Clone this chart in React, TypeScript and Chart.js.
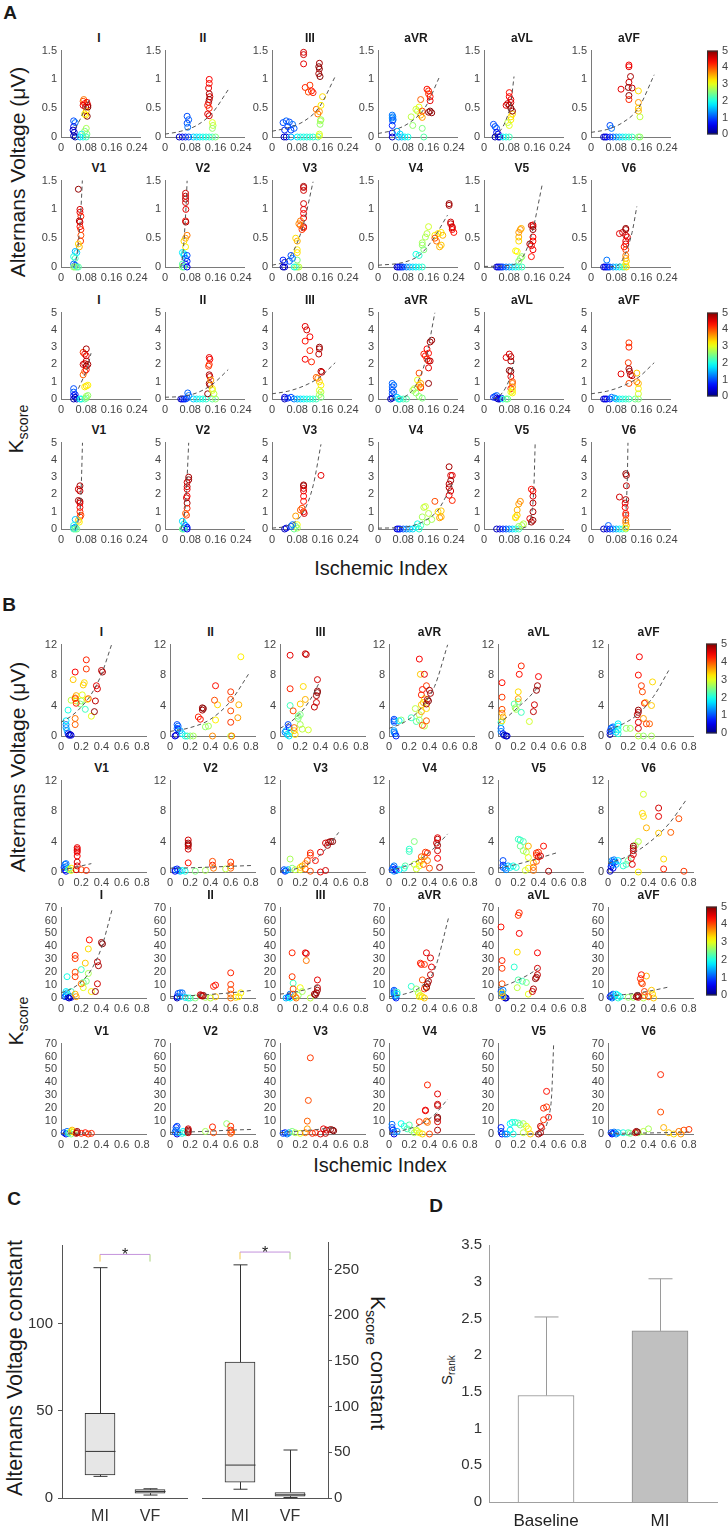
import { useEffect, useRef } from 'react';
import { Chart, registerables } from 'chart.js';

Chart.register(...registerables);

type P = [number, number, number]; // x, y, colour value 0-5
type F = [number, number][];

const FONT = '"Liberation Sans", Arial, Helvetica, sans-serif';
const TICK = '#444';
const AXIS = '#7a7a7a';

const leads = ['I', 'II', 'III', 'aVR', 'aVL', 'aVF', 'V1', 'V2', 'V3', 'V4', 'V5', 'V6'];

const aXTicks = [0, 0.08, 0.16, 0.24];
const aVoltTicks = [0, 0.5, 1, 1.5];
const aKTicks = [0, 1, 2, 3, 4, 5];
const bXTicks = [0, 0.2, 0.4, 0.6, 0.8];
const bVoltTicks = [0, 4, 8, 12];
const bKTicks = [0, 10, 20, 30, 40, 50, 60, 70];
const cbTicks = [0, 1, 2, 3, 4, 5];

// Panel A, alternans voltage
const aVoltPts: P[][] = [
  [[0.04,0.28,1],[0.045,0.25,1.2],[0.04,0.18,0.5],[0.038,0.12,0.3],[0.042,0.08,0.4],[0.04,0.02,0.2],[0.045,0,0.2],[0.06,0,1.6],[0.065,0.05,1.8],[0.07,0,2],[0.075,0.1,2.5],[0.08,0.15,2.7],[0.082,0.05,2.5],[0.08,0,2.2],[0.07,0.62,4],[0.072,0.65,3.8],[0.075,0.58,4.3],[0.07,0.55,4.5],[0.078,0.52,4.8],[0.085,0.55,4.6],[0.08,0.45,3.5],[0.078,0.38,3.3],[0.083,0.36,5],[0.075,0.4,3.2],[0.085,0.52,5],[0.082,0.6,4.4]],
  [[0.07,0.36,1],[0.075,0.3,1.1],[0.07,0.24,1],[0.072,0.17,1.2],[0.045,0,0.3],[0.055,0,0.5],[0.065,0,0.8],[0.075,0,1],[0.09,0,1.6],[0.1,0,1.8],[0.11,0,1.8],[0.12,0,2],[0.13,0,2],[0.14,0,2.1],[0.15,0,2.2],[0.16,0,2.5],[0.14,1.0,4.4],[0.14,0.93,4.3],[0.138,0.85,4.5],[0.14,0.75,4.8],[0.142,0.7,4.6],[0.14,0.65,4.9],[0.138,0.6,4.7],[0.135,0.55,4.3],[0.14,0.5,4.2],[0.135,0.4,4.5],[0.14,0.37,4.6],[0.15,0.25,3],[0.152,0.2,2.8],[0.15,0.15,2.6]],
  [[0.035,0.25,1],[0.045,0.28,1.1],[0.055,0.26,1],[0.065,0.22,1.2],[0.04,0.12,0.8],[0.05,0.18,1],[0.06,0.12,0.9],[0.07,0.15,1.1],[0.038,0,0.3],[0.045,0,0.4],[0.06,0,1.5],[0.08,0,1.8],[0.09,0,2],[0.1,0,2],[0.11,0,2],[0.12,0,2.1],[0.13,0,2.1],[0.145,0,2.2],[0.1,1.47,4.6],[0.1,1.43,4.6],[0.1,1.27,4.5],[0.15,1.28,4.8],[0.148,1.22,5],[0.15,1.18,4.9],[0.148,1.1,4.8],[0.152,1.05,5],[0.105,0.86,4.2],[0.12,0.9,4.1],[0.125,0.8,4.3],[0.115,0.78,4],[0.13,0.77,4.2],[0.14,0.48,3.8],[0.15,0.44,3.6],[0.145,0.4,3.8],[0.16,0.7,3.3],[0.155,0.55,3.2],[0.155,0.3,2.7],[0.153,0.28,2.7],[0.152,0.22,2.6],[0.15,0.05,2.9],[0.15,0.02,3]],
  [[0.045,0.38,1.2],[0.047,0.35,1.2],[0.045,0.33,1.3],[0.048,0.3,1.2],[0.046,0.28,1.1],[0.045,0.2,0.8],[0.045,0.07,0.5],[0.045,0,0.3],[0.065,0,1.4],[0.075,0,1.6],[0.085,0,1.8],[0.095,0,2],[0.06,0.1,1.5],[0.07,0.05,1.7],[0.105,0.35,2.8],[0.11,0.2,2.6],[0.12,0.48,2.9],[0.13,0.52,3],[0.14,0.15,2.5],[0.145,0,2.3],[0.125,0.45,2.8],[0.135,0.38,3.5],[0.14,0.34,3.6],[0.135,0.65,3.9],[0.14,0.45,4],[0.155,0.83,4.3],[0.16,0.8,4.2],[0.16,0.75,4.1],[0.165,0.7,4.3],[0.165,0.63,4.5],[0.16,0.43,4.9],[0.17,0.42,4.9],[0.165,0.45,5]],
  [[0.03,0.22,1],[0.035,0.18,1],[0.04,0.15,1.1],[0.04,0.08,0.6],[0.045,0.05,0.5],[0.035,0,0.2],[0.05,0,0.3],[0.045,0,0.4],[0.06,0,1.8],[0.07,0,2],[0.08,0,2.2],[0.08,0.2,3],[0.085,0.3,3.2],[0.085,0.35,3.3],[0.09,0.4,3.3],[0.075,0.25,2.8],[0.07,0.55,4.5],[0.08,0.77,4.3],[0.08,0.7,4.4],[0.085,0.6,4.6],[0.075,0.58,4.7],[0.08,0.55,4.8],[0.085,0.5,5],[0.09,0.45,4.9],[0.085,0.65,4.5]],
  [[0.06,0.2,1],[0.065,0.15,1.2],[0.04,0,0.3],[0.045,0,0.4],[0.05,0,0.6],[0.06,0,0.8],[0.07,0,1],[0.08,0,1.4],[0.09,0,1.6],[0.1,0,1.8],[0.11,0,2],[0.12,0,2.1],[0.13,0,2.2],[0.15,0,2.5],[0.155,0,2.6],[0.095,0.83,4.5],[0.12,1.25,4.4],[0.12,1.22,4.5],[0.125,1.05,4.8],[0.12,0.95,4.6],[0.118,0.86,5],[0.12,0.72,4.9],[0.12,0.65,4.2],[0.13,0.85,4.7],[0.15,0.8,3.3],[0.15,0.6,3.6],[0.15,0.5,3.4],[0.15,0.45,3.5],[0.155,0.35,2.8]],
  [[0.055,1.35,4.9],[0.06,1.0,4.6],[0.06,0.95,4.5],[0.063,0.88,4.2],[0.058,0.8,4.8],[0.06,0.78,4.6],[0.06,0.7,4.3],[0.063,0.65,4.2],[0.063,0.55,4],[0.062,0.45,4.1],[0.055,0.4,3.3],[0.058,0.35,3.5],[0.045,0.27,1.5],[0.05,0.25,1.7],[0.04,0.18,2],[0.045,0.15,2.2],[0.04,0.05,1.2],[0.045,0.03,1],[0.045,0,2.5],[0.05,0,2.2],[0.04,0,2.6],[0.055,0,2.3]],
  [[0.065,1.28,4.6],[0.065,1.23,4.6],[0.065,1.18,4.7],[0.065,1.12,4.6],[0.066,1.0,4.5],[0.065,0.8,4.3],[0.066,0.78,4.8],[0.07,0.55,3.8],[0.065,0.5,3.6],[0.06,0.45,3.3],[0.065,0.35,3.2],[0.055,0.25,1.8],[0.06,0.23,2],[0.06,0.2,1.7],[0.065,0.15,1],[0.07,0.1,0.8],[0.065,0.05,0.6],[0.055,0.05,2.3],[0.055,0,2.6],[0.06,0,2.2],[0.07,0,0.5],[0.07,0.2,1]],
  [[0.1,1.4,4.8],[0.1,1.38,4.7],[0.1,1.33,4.6],[0.1,1.1,4.6],[0.1,1.0,4.5],[0.1,0.93,4.4],[0.1,0.85,4.5],[0.1,0.7,4.9],[0.1,0.68,4.3],[0.095,0.65,4.1],[0.09,0.8,3.8],[0.085,0.75,3.7],[0.09,0.72,3.9],[0.075,0.5,3.3],[0.08,0.45,3.5],[0.08,0.3,3.2],[0.08,0.25,3.3],[0.08,0.12,2.5],[0.08,0,2.7],[0.085,0,2.8],[0.075,0,2.4],[0.07,0,2],[0.06,0.2,1],[0.065,0.15,1.2],[0.035,0.12,0.8],[0.04,0.08,0.6],[0.035,0,0.2],[0.04,0,0.4],[0.055,0.1,1.1]],
  [[0.06,0,0.3],[0.065,0,0.5],[0.07,0,0.7],[0.075,0,0.8],[0.08,0,1],[0.09,0,1.2],[0.1,0,1.5],[0.11,0,1.7],[0.12,0,1.8],[0.13,0,2],[0.14,0,2.1],[0.12,0.22,2],[0.13,0.2,2.1],[0.14,0.42,2.7],[0.14,0.38,2.6],[0.145,0.3,2.5],[0.155,0.58,2.8],[0.16,0.7,2.9],[0.15,0.52,2.7],[0.18,0.55,3.2],[0.19,0.58,3.3],[0.2,0.6,3.2],[0.2,0.38,3.4],[0.195,0.35,3.5],[0.205,0.55,3.5],[0.18,0.5,4],[0.185,0.45,3.8],[0.225,1.1,4.9],[0.225,1.07,4.8],[0.23,0.78,4.6],[0.23,0.75,4.7],[0.235,0.7,4.5],[0.235,0.65,4.4],[0.24,0.6,4.3],[0.235,0.68,4.6]],
  [[0.04,0,0.3],[0.045,0,0.5],[0.05,0,0.7],[0.055,0,0.8],[0.06,0,1],[0.07,0,1.2],[0.08,0,1.4],[0.09,0,1.6],[0.1,0,1.9],[0.11,0,2.1],[0.12,0,2.2],[0.1,0.28,3.2],[0.105,0.27,3.1],[0.11,0.45,3.3],[0.11,0.52,3.5],[0.11,0.6,3.6],[0.115,0.65,3.7],[0.118,0.67,3.5],[0.115,0.15,2.7],[0.12,0.18,2.6],[0.11,0.1,2.5],[0.15,0.72,4.8],[0.155,0.73,4.5],[0.155,0.7,4.6],[0.155,0.65,4.9],[0.155,0.52,4.4],[0.155,0.45,4.3],[0.145,0.4,4.8],[0.15,0.37,4.5],[0.155,0.3,4.4],[0.15,0.18,4.3]],
  [[0.04,0,0.3],[0.045,0,0.5],[0.05,0,0.6],[0.055,0,0.8],[0.06,0,1],[0.07,0,1.3],[0.08,0,1.6],[0.09,0,1.8],[0.1,0,2.1],[0.105,0,2.5],[0.05,0.12,1.2],[0.09,0.58,4.5],[0.1,0.6,4.6],[0.11,0.67,4.9],[0.11,0.65,4.8],[0.11,0.55,4.7],[0.11,0.45,4.4],[0.11,0.4,4.6],[0.105,0.35,4.3],[0.11,0.3,4.1],[0.115,0.52,4.5],[0.11,0.2,3.8],[0.11,0.15,3.6],[0.112,0.1,3.4],[0.11,0.05,3.2],[0.112,0,3.3]],
];
const aVoltFit: F[] = [
  [[0.045,0.15],[0.06,0.3],[0.075,0.48],[0.093,0.68]],
  [[0,0.05],[0.05,0.1],[0.1,0.2],[0.15,0.42],[0.2,0.82]],
  [[0,0.1],[0.05,0.16],[0.1,0.27],[0.15,0.52],[0.2,1.05]],
  [[0,0.06],[0.05,0.12],[0.1,0.25],[0.15,0.52],[0.195,1.05]],
  [[0.03,0.02],[0.05,0.1],[0.07,0.3],[0.085,0.6],[0.095,1.05]],
  [[0,0.08],[0.05,0.13],[0.1,0.25],[0.15,0.5],[0.2,1.08]],
  [[0.04,0],[0.05,0.2],[0.058,0.6],[0.063,1.0],[0.068,1.55]],
  [[0.05,0],[0.058,0.3],[0.063,0.7],[0.067,1.1],[0.07,1.5]],
  [[0,0.03],[0.04,0.1],[0.07,0.3],[0.1,0.75],[0.13,1.48]],
  [[0,0.03],[0.08,0.08],[0.13,0.2],[0.17,0.45],[0.22,0.9]],
  [[0,0.01],[0.08,0.03],[0.12,0.15],[0.15,0.55],[0.185,1.45]],
  [[0.06,0],[0.09,0.05],[0.11,0.25],[0.13,0.6],[0.145,1.05]],
];

// Panel A, Kscore
const aKPts: P[][] = [
  [[0.04,0.6,1],[0.04,0.4,1.1],[0.045,0.25,0.8],[0.04,0.2,0.6],[0.045,0.1,0.4],[0.04,0,0.2],[0.05,0,0.3],[0.06,0,1.8],[0.065,0,2],[0.075,0,2.3],[0.08,0.05,2.5],[0.08,0.15,2.7],[0.085,0.2,2.6],[0.075,0.7,3.2],[0.08,0.75,3.3],[0.085,0.8,3.2],[0.07,2.7,4.1],[0.075,2.6,4.3],[0.08,2.9,4.8],[0.08,2.5,4.6],[0.08,2.2,4.7],[0.075,2.05,4.5],[0.07,2.0,4.6],[0.08,1.9,5],[0.085,2.0,4.8],[0.075,1.6,4],[0.07,1.4,3.9],[0.08,1.7,4.4]],
  [[0.05,0,0.3],[0.055,0,0.5],[0.06,0,0.7],[0.065,0,0.9],[0.07,0.05,1],[0.075,0.2,1.2],[0.072,0.35,1.1],[0.09,0,1.6],[0.1,0,1.8],[0.11,0,2],[0.12,0,2],[0.13,0,2.1],[0.15,0,2.3],[0.16,0,2.6],[0.14,2.4,4.5],[0.142,2.3,4.4],[0.14,2.0,4.2],[0.138,1.9,4.1],[0.14,1.4,4.8],[0.142,1.3,4.6],[0.14,0.9,4.9],[0.142,0.8,4.7],[0.135,0.3,4.9],[0.15,0.6,3.2],[0.15,0.5,3],[0.155,0.3,2.8],[0.145,1.1,3.6]],
  [[0.04,0,0.3],[0.04,0.1,0.5],[0.05,0.05,0.8],[0.06,0.1,1],[0.07,0,1.2],[0.08,0,1.5],[0.09,0,1.7],[0.1,0,1.8],[0.11,0,2],[0.12,0,2],[0.13,0,2.1],[0.14,0,2.2],[0.105,4.2,4.5],[0.11,4.0,4.6],[0.12,3.6,4.4],[0.105,3.35,4.3],[0.12,2.8,4.2],[0.105,2.3,4.4],[0.125,2.15,4.2],[0.15,3.0,4.9],[0.15,2.9,4.8],[0.148,2.6,4.7],[0.155,1.6,4.8],[0.158,1.55,4.6],[0.14,1.25,3.9],[0.145,1.2,3.8],[0.15,1.0,3.4],[0.155,0.8,3.2],[0.15,0.5,3],[0.155,0.4,2.8],[0.15,0.25,2.7],[0.155,0.1,2.5]],
  [[0.045,0.9,1.1],[0.05,0.8,1.2],[0.045,0.7,1.1],[0.045,0.5,1],[0.05,0.4,1.2],[0.045,0.3,1],[0.04,0,0.2],[0.045,0.05,0.4],[0.06,0.1,1.6],[0.065,0,1.8],[0.07,0,2],[0.08,0,2.2],[0.09,0,2.3],[0.11,0.5,2.7],[0.115,0.6,2.8],[0.12,0.35,2.6],[0.125,1.1,3],[0.13,0.15,2.6],[0.14,0.05,2.5],[0.13,0.8,3.5],[0.135,0.7,3.8],[0.135,0.65,4.1],[0.13,1.5,4],[0.135,0.9,3.6],[0.145,2.6,4.2],[0.15,2.5,4.3],[0.155,2.9,4.4],[0.16,2.65,4.3],[0.16,2.2,4.6],[0.16,1.8,4.5],[0.155,2.3,4.2],[0.165,3.3,4.8],[0.17,3.4,4.9],[0.165,2.2,4.7],[0.16,0.9,4.9]],
  [[0.03,0.1,0.8],[0.035,0.15,1],[0.04,0.2,1.1],[0.04,0.05,0.5],[0.045,0,0.3],[0.05,0,0.4],[0.055,0.05,0.6],[0.06,0,2],[0.07,0,2.3],[0.075,0,2.5],[0.07,2.4,4.5],[0.08,2.6,4.6],[0.085,2.45,4.7],[0.085,2.2,4.8],[0.08,1.65,4.9],[0.085,1.6,5],[0.085,1.3,4.5],[0.09,1.0,4],[0.09,0.9,3.8],[0.09,0.7,3.6],[0.085,0.6,4.2],[0.09,0.5,3.3],[0.09,0.35,3.2],[0.085,0.4,3]],
  [[0.04,0,0.3],[0.045,0,0.5],[0.05,0,0.6],[0.06,0,0.8],[0.065,0.1,1.2],[0.075,0.05,1.4],[0.08,0,1.6],[0.09,0,1.8],[0.1,0,2],[0.11,0,2.1],[0.12,0,2.2],[0.14,0,2.4],[0.15,0,2.5],[0.095,1.45,4.5],[0.12,3.25,4.1],[0.12,3.0,4.2],[0.118,2.1,4.1],[0.12,1.75,4.8],[0.122,1.6,4.9],[0.125,1.4,4.6],[0.13,1.35,4.7],[0.12,0.9,4],[0.145,1.5,3.4],[0.145,1.0,3.8],[0.15,0.9,3.5],[0.15,0.6,3.2],[0.15,0.3,2.9]],
  [[0.06,2.5,4.8],[0.055,2.3,4.6],[0.06,2.2,4.7],[0.055,1.65,4.8],[0.06,1.6,4.9],[0.06,1.5,4.5],[0.06,1.25,4.4],[0.06,1.0,4.2],[0.063,0.8,4],[0.06,0.7,4.1],[0.055,0.5,3.4],[0.058,0.4,3.2],[0.045,0.55,1.6],[0.04,0.2,2],[0.045,0.1,1.5],[0.04,0.05,1.2],[0.045,0,2.5],[0.05,0,2.4],[0.04,0,2.2]],
  [[0.075,3.0,4.8],[0.075,2.85,4.9],[0.07,2.7,4.6],[0.07,2.45,4.7],[0.07,2.3,4.5],[0.07,1.9,4.4],[0.068,1.8,4.6],[0.07,1.5,4.8],[0.07,1.2,4.2],[0.068,0.8,4.1],[0.065,0.9,3.9],[0.055,0.45,1.7],[0.06,0.3,1.9],[0.065,0.2,1.2],[0.07,0.1,0.8],[0.06,0.05,1],[0.055,0,2.4],[0.06,0,2.2],[0.07,0,0.5]],
  [[0.1,2.55,4.8],[0.1,2.5,4.9],[0.1,2.35,4.6],[0.1,2.2,4.5],[0.1,1.9,4.4],[0.1,1.6,4.3],[0.1,1.0,4.4],[0.102,0.9,4.6],[0.155,3.1,4.5],[0.095,1.2,4],[0.09,1.1,3.9],[0.075,0.75,3.6],[0.08,0.25,3.1],[0.075,0.15,2.5],[0.08,0.05,2.7],[0.07,0,2.4],[0.04,0,0.3],[0.045,0.05,0.5],[0.06,0.15,1],[0.065,0.25,1.2]],
  [[0.06,0,0.4],[0.065,0,0.6],[0.07,0,0.8],[0.08,0,1],[0.09,0,1.3],[0.1,0,1.5],[0.11,0,1.7],[0.12,0.1,1.9],[0.125,0.3,2],[0.13,0,2.1],[0.135,0.2,2.2],[0.14,0.7,2.7],[0.145,1.25,2.8],[0.15,1.3,2.9],[0.155,0.4,2.6],[0.16,0.9,2.8],[0.17,0.55,2.7],[0.18,1.6,4],[0.19,1.0,3.3],[0.2,1.05,3.4],[0.2,0.7,3.5],[0.195,0.65,3.6],[0.225,3.6,4.8],[0.23,3.1,4.6],[0.235,3.1,4.5],[0.23,2.8,4.9],[0.225,2.6,4.7],[0.225,2.4,4.8],[0.23,2.2,4.6],[0.225,1.95,4.5],[0.235,1.65,4.2]],
  [[0.04,0,0.3],[0.05,0,0.5],[0.06,0,0.8],[0.07,0,1],[0.08,0,1.3],[0.09,0,1.6],[0.1,0,1.9],[0.11,0,2.2],[0.11,0.15,2.6],[0.12,0.2,2.7],[0.125,0.3,2.8],[0.1,0.65,3.3],[0.105,0.8,3.4],[0.105,1.1,3.5],[0.11,1.45,3.6],[0.115,1.6,3.7],[0.1,0.7,3.2],[0.145,0.6,4.5],[0.15,2.3,4.3],[0.155,2.2,4.4],[0.155,1.9,4.6],[0.155,1.5,4.7],[0.155,1.0,4.8],[0.155,0.5,4.9],[0.15,0.4,4.8]],
  [[0.04,0,0.3],[0.05,0,0.5],[0.055,0.2,1.1],[0.06,0,0.8],[0.07,0,1.2],[0.08,0,1.5],[0.09,0,1.8],[0.1,0,2.1],[0.11,0,2.4],[0.09,1.85,4.6],[0.11,3.2,4.9],[0.112,3.1,4.8],[0.112,2.5,4.7],[0.11,1.7,4.8],[0.108,1.5,4.5],[0.108,1.25,4.4],[0.11,0.9,4.3],[0.11,0.8,4.2],[0.11,0.5,3.9],[0.11,0.35,3.7],[0.112,0.2,3.5],[0.11,0.05,3.2]],
];
const aKFit: F[] = [
  [[0.055,0.6],[0.07,1.2],[0.085,1.9],[0.095,2.65]],
  [[0,0.1],[0.05,0.15],[0.1,0.35],[0.15,0.85],[0.2,1.7]],
  [[0,0.3],[0.05,0.45],[0.1,0.75],[0.15,1.25],[0.2,2.1]],
  [[0.04,0],[0.08,0.1],[0.12,0.8],[0.15,2.2],[0.18,5]],
  [[0.03,0],[0.05,0.2],[0.07,0.7],[0.085,1.4],[0.095,2.2]],
  [[0,0.3],[0.05,0.45],[0.1,0.75],[0.15,1.25],[0.2,2.1]],
  [[0.045,0],[0.055,0.5],[0.062,1.5],[0.065,3],[0.068,5]],
  [[0.05,0],[0.06,0.6],[0.065,1.5],[0.07,3],[0.075,5]],
  [[0,0.05],[0.05,0.2],[0.1,1.0],[0.13,2.5],[0.155,4.9]],
  [[0,0.05],[0.08,0.1],[0.14,0.4],[0.19,1.1],[0.235,2.6]],
  [[0.1,0],[0.13,0.1],[0.15,0.8],[0.158,2.5],[0.162,5]],
  [[0.1,0],[0.108,0.3],[0.112,1.5],[0.115,3],[0.117,5]],
];

// Panel B, alternans voltage
const bVoltPts: P[][] = [
  [[0.05,1.5,1.2],[0.05,1.1,1.4],[0.06,0.7,1.5],[0.07,0.3,0.8],[0.08,0.1,0.3],[0.09,0.2,0.2],[0.1,0.1,0.5],[0.05,2.0,1.8],[0.07,3.4,2],[0.12,7.4,3.4],[0.15,5.3,3.5],[0.14,5.0,3.6],[0.15,4.6,3.4],[0.1,4.7,2.8],[0.2,4.6,2.6],[0.21,5.4,3],[0.22,6.7,3.4],[0.23,7.0,3.3],[0.24,3.5,2.2],[0.26,4.8,3.2],[0.3,2.6,3],[0.19,4.2,2.5],[0.14,2.3,3.8],[0.14,8.4,4.4],[0.14,4.9,4],[0.15,4.3,4.2],[0.14,1.5,3.9],[0.25,10.0,4.2],[0.25,8.8,4.1],[0.4,8.6,4.7],[0.41,8.4,4.8],[0.35,6.6,4.5],[0.36,6.2,4.6],[0.34,4.6,4.7],[0.33,3.2,4.9],[0.27,4.9,3.9]],
  [[0.07,1.5,1],[0.08,1.3,1.1],[0.07,1.0,1.2],[0.08,0.9,0.8],[0.1,0.7,1.5],[0.06,0.1,0.3],[0.05,0,0.5],[0.12,0.3,1.7],[0.15,0,2],[0.17,0,2.1],[0.2,0,2.5],[0.23,0,2.7],[0.35,1.2,2.6],[0.38,1.3,2.7],[0.45,2.1,3.2],[0.6,0,2.8],[0.47,4.1,3.3],[0.7,10.4,3.2],[0.67,2.4,3.6],[0.68,4.1,3.5],[0.44,4.7,4],[0.45,6.6,4.3],[0.6,5.8,4.1],[0.6,4.8,4],[0.6,3.3,4],[0.6,1.8,4.1],[0.61,0,3.8],[0.42,0,3.7],[0.28,2.5,4.2],[0.3,2.2,4.3],[0.32,3.7,4.9],[0.32,3.4,4.8],[0.33,3.6,5]],
  [[0.05,0.5,1.2],[0.06,0.7,1.5],[0.08,1.5,1],[0.09,1.1,0.8],[0.07,0.2,1.6],[0.09,0,1.8],[0.1,0.5,2],[0.1,4,2.2],[0.18,2.6,2.4],[0.2,2.8,2.5],[0.2,1.5,2.7],[0.22,0.9,2.8],[0.28,0.8,2.9],[0.18,2.3,2.6],[0.23,6.5,3.3],[0.2,4.2,3.4],[0.25,4.8,3.5],[0.15,0.2,3.3],[0.14,0.7,3.4],[0.1,6.2,4.2],[0.13,3.3,4],[0.14,1.1,3.8],[0.1,10.6,4.5],[0.25,10.8,4.6],[0.26,10.7,4.7],[0.37,7.4,4.6],[0.37,5.9,4.9],[0.37,5.7,5],[0.36,5.3,4.8],[0.36,4.4,4.6],[0.34,3.8,4.7]],
  [[0.05,2.2,1],[0.05,2.0,0.9],[0.05,1.8,1.2],[0.05,0.7,1.4],[0.05,0.5,1.3],[0.06,0.3,1.1],[0.07,0,0.8],[0.1,2.0,1.8],[0.12,2.1,2.5],[0.22,2.4,2.2],[0.27,1.9,2.3],[0.26,3.6,2.8],[0.3,2.1,2.6],[0.3,2.8,2.8],[0.35,1.3,2.8],[0.31,8.1,3.4],[0.32,4.1,3.4],[0.34,4.4,3.5],[0.32,3.2,3.6],[0.37,3.6,3.3],[0.35,4.9,3.2],[0.33,1.4,4],[0.37,2.0,3.9],[0.33,6.1,4.3],[0.32,5.4,4.2],[0.37,6.6,4.1],[0.3,10.1,4.4],[0.35,8.1,4.5],[0.4,6.0,4.9],[0.41,5.6,4.8],[0.38,4.8,4.7],[0.39,4.6,5],[0.37,4.2,4.8]],
  [[0.03,1.0,1.1],[0.03,0.6,1.3],[0.05,0.3,0.8],[0.06,0.1,0.3],[0.08,0,0.2],[0.09,0,0.4],[0.03,1.8,2],[0.16,4.2,2.3],[0.17,3.7,2.6],[0.18,3.5,2.7],[0.23,3.1,2.2],[0.2,4.5,2.5],[0.04,2.0,3.3],[0.05,2.5,3.5],[0.04,3.0,3.6],[0.2,5.8,3.3],[0.2,4.9,3.6],[0.31,1.9,2.9],[0.04,7.0,4.3],[0.04,5.1,4.1],[0.04,3.5,4],[0.21,8.1,4.3],[0.23,9.2,4.2],[0.4,7.8,4.4],[0.39,6.6,4.8],[0.38,6.0,4.9],[0.36,4.1,4.6],[0.35,3.2,4.7]],
  [[0.02,0.2,0.2],[0.02,0.6,0.8],[0.03,1.0,1],[0.04,0.7,1.2],[0.04,1.1,1.1],[0.05,1.2,1.3],[0.1,1.6,1.8],[0.1,1.3,1.9],[0.1,0.8,2],[0.1,0.3,2.1],[0.08,0.5,1.7],[0.18,1.0,2.6],[0.22,1.0,2.7],[0.3,0,2.8],[0.35,0,2.6],[0.43,0,2.7],[0.44,7.1,3.3],[0.43,4.0,3.4],[0.37,4.4,3.5],[0.35,2.3,3.6],[0.33,6.6,4.1],[0.34,5.8,4],[0.36,4.3,4.2],[0.38,1.6,4.1],[0.41,1.6,3.9],[0.3,8.0,4.3],[0.31,10.4,4.4],[0.3,3.4,4.9],[0.3,3.1,4.8],[0.29,2.8,4.7],[0.3,1.8,4.5],[0.3,1.0,4.6]],
  [[0.03,0.6,1],[0.04,1.0,1.1],[0.05,1.1,1.2],[0.05,0.7,1.3],[0.04,0.3,0.8],[0.05,0.1,0.5],[0.07,0.4,2],[0.08,0.3,2.5],[0.1,0.5,3.2],[0.1,0.2,3],[0.16,3.2,4.5],[0.16,3.0,4.4],[0.16,2.8,4.6],[0.16,2.6,4.5],[0.16,2.1,4.4],[0.16,1.3,4.6],[0.16,0.8,4.5],[0.2,0.3,4],[0.25,0.2,4.2],[0.15,0.3,4.5]],
  [[0.05,0.3,1],[0.07,0.4,0.8],[0.08,0.2,1.2],[0.1,0.1,1.5],[0.05,0.1,0.5],[0.12,0.2,1.8],[0.18,4.2,4.6],[0.18,3.8,4.8],[0.18,3.6,5],[0.18,3.4,4.7],[0.18,3.0,4.6],[0.18,1.2,4.3],[0.42,1.4,4],[0.42,0.9,4.2],[0.43,0.5,3.8],[0.6,1.3,4.1],[0.6,0.8,4],[0.6,0.5,3.9],[0.35,0.2,2.7],[0.55,0.4,2.8],[0.25,0.1,2.5],[0.15,0.1,2]],
  [[0.04,0.3,1],[0.05,0.1,0.8],[0.06,0.2,1.2],[0.08,0.3,1.5],[0.1,1.7,2.7],[0.12,0.5,2.5],[0.15,0.3,2.8],[0.2,0.3,3],[0.2,0.6,3.4],[0.22,0.8,3.5],[0.25,1.1,3.6],[0.27,1.5,4],[0.3,2.2,4.1],[0.3,2.5,4.2],[0.35,1.5,4.3],[0.25,0.4,3.9],[0.3,0.1,4],[0.4,2.6,4.5],[0.45,3.8,4.6],[0.48,3.9,4.7],[0.5,4.0,4.9],[0.52,4.0,5],[0.47,3.5,4.8],[0.4,0,4.5],[0.45,0.2,4.6]],
  [[0.03,0.3,1],[0.04,0.6,1.1],[0.05,0.8,1.2],[0.06,0.4,0.8],[0.07,0.2,0.5],[0.05,0.1,1.3],[0.1,0.3,1.8],[0.15,0.5,2],[0.2,3.0,2.1],[0.2,2.7,2.2],[0.25,4.0,2.5],[0.16,0.8,2.3],[0.25,1.0,2.8],[0.3,1.3,3.2],[0.3,0.8,3.1],[0.32,1.5,3.4],[0.35,2.0,3.5],[0.27,0.4,2.9],[0.32,2.0,4],[0.36,2.6,4.1],[0.38,2.5,4.2],[0.38,1.5,3.8],[0.4,0.5,4],[0.34,1.0,3.9],[0.48,4.5,4.5],[0.48,4.3,4.7],[0.47,3.8,4.6],[0.48,3.5,4.9],[0.48,2.8,4.6],[0.48,1.8,4.4],[0.5,0.6,4.8]],
  [[0.05,0.9,0.8],[0.05,0.6,1],[0.07,0.5,1.2],[0.05,1.5,1],[0.1,0.8,1.5],[0.08,0.3,1.3],[0.12,0.6,1.8],[0.15,0.8,2],[0.18,0.6,2.1],[0.2,4.3,2.2],[0.22,4.2,2.1],[0.25,4.0,2.3],[0.22,3.4,2.4],[0.25,2.8,2.6],[0.28,2.6,2.8],[0.3,1.9,3],[0.3,3.4,3.5],[0.35,1.2,3.4],[0.3,0.5,3.2],[0.27,0.2,2.9],[0.38,2.2,4],[0.38,2.5,4.2],[0.4,2.6,4.1],[0.45,3.4,4.3],[0.38,1.4,4],[0.35,0.6,3.9],[0.35,0.2,3.8],[0.4,2.0,4.5],[0.42,2.1,4.6],[0.5,0.1,4.8]],
  [[0.03,0.7,0.8],[0.04,1.0,1],[0.05,1.3,1.1],[0.06,1.6,1.2],[0.07,1.3,1],[0.04,1.5,1.3],[0.05,0.5,0.5],[0.02,0.1,0.3],[0.08,1.0,1.5],[0.1,1.5,1.8],[0.15,0.8,2.1],[0.18,1.0,2.2],[0.2,1.5,2.4],[0.27,3.5,2.6],[0.3,4.0,2.8],[0.35,10.2,2.9],[0.34,7.7,3.3],[0.35,7.3,3.3],[0.38,5.8,3.5],[0.5,5.1,3.4],[0.55,1.7,3.3],[0.3,0,3.2],[0.62,5.2,3.9],[0.7,7.0,4],[0.55,0.4,4.2],[0.75,0.1,4.1],[0.25,3.4,4.9],[0.25,3.1,4.8],[0.25,2.8,4.7],[0.25,2.3,4.6],[0.23,1.8,4.5],[0.24,1.0,4.5],[0.5,8.4,4.6],[0.5,7.3,4.5]],
];
const bVoltFit: F[] = [
  [[0,1.8],[0.1,2.6],[0.2,3.8],[0.3,5.5],[0.4,8.1],[0.5,12]],
  [[0,0.6],[0.2,1.1],[0.4,2.2],[0.6,4.6],[0.78,8.2]],
  [[0,1],[0.1,1.8],[0.2,3],[0.3,4.8],[0.38,6.8]],
  [[0,1],[0.15,1.8],[0.3,3.4],[0.45,6.5],[0.58,12]],
  [[0,1.6],[0.1,2.6],[0.2,3.8],[0.3,5],[0.4,6.5]],
  [[0,0.8],[0.15,1.6],[0.3,2.9],[0.45,5.2],[0.6,8.6]],
  [[0,0.3],[0.1,0.5],[0.2,0.8],[0.3,1.1]],
  [[0,0.5],[0.2,0.55],[0.4,0.65],[0.6,0.75],[0.8,0.85]],
  [[0,0.1],[0.15,0.4],[0.3,1.2],[0.45,3],[0.58,5.2]],
  [[0,0.2],[0.15,0.7],[0.3,1.6],[0.45,3.2],[0.58,5]],
  [[0,0.5],[0.15,0.9],[0.3,1.4],[0.45,2.0],[0.6,2.6]],
  [[0,1.1],[0.2,2.1],[0.4,3.8],[0.6,6.3],[0.78,9.6]],
];

// Panel B, Kscore
const bKPts: P[][] = [
  [[0.05,3,1.5],[0.05,2,1.4],[0.06,4,1.6],[0.04,1,1],[0.07,0.5,0.5],[0.08,0,0.3],[0.09,1,0.2],[0.1,0.5,0.4],[0.05,5,1.8],[0.06,16.5,2],[0.1,5,2.2],[0.2,22,2.2],[0.22,12,2.4],[0.25,13,2.5],[0.27,19,2.7],[0.22,8,3],[0.27,38,3.3],[0.24,27,3.4],[0.14,3,3.5],[0.15,1,3.6],[0.3,5,3.2],[0.14,33,4.2],[0.14,30.5,4.1],[0.14,20,4],[0.14,16.5,4.1],[0.28,45,4.3],[0.36,11,4.6],[0.36,28,4.7],[0.37,25,4.8],[0.4,43,4.9],[0.41,42,5],[0.34,5,4.9],[0.2,11,3.8]],
  [[0.07,1,0.5],[0.07,0,0.3],[0.08,3.5,1],[0.1,4,1.1],[0.12,4,1.2],[0.1,1,1.4],[0.15,0.5,1.7],[0.18,0,2],[0.2,0,2.2],[0.25,0,2.5],[0.35,0.5,2.7],[0.4,0,2.8],[0.31,2,4.8],[0.33,2,5],[0.3,2.5,4.6],[0.32,1.5,4.7],[0.43,9,4.2],[0.45,10,4.3],[0.6,19.5,4.2],[0.6,10.5,4.1],[0.6,6.5,4],[0.6,3,3.9],[0.6,0,3.8],[0.45,1,3.4],[0.65,0.5,3.3],[0.68,1,3.2],[0.7,4,3.2]],
  [[0.08,0.5,1],[0.09,1,0.8],[0.1,3,1.2],[0.06,0,1.5],[0.13,11.5,2.2],[0.1,0,1.9],[0.2,8,3.1],[0.22,5,2.7],[0.18,2,2.6],[0.3,0,2.8],[0.15,1,3.4],[0.12,35,4.2],[0.12,16.5,4.1],[0.13,7,4],[0.13,3,4],[0.16,0,3.8],[0.26,29,3.8],[0.25,35,4.4],[0.26,34.5,4.6],[0.37,14,4.5],[0.37,8,4.7],[0.37,6,4.8],[0.36,4,4.9],[0.35,2.5,5],[0.34,3,4.8]],
  [[0.05,6,1],[0.05,5,1.2],[0.05,4,0.9],[0.05,3,1.3],[0.06,1,1.1],[0.07,0,0.8],[0.06,2,1.4],[0.08,3,1.8],[0.22,9,2.1],[0.08,4.5,2.2],[0.27,7,2.6],[0.29,4,2.8],[0.31,2,3],[0.33,1,3.3],[0.35,0,3.4],[0.3,1,3.2],[0.31,27,4.2],[0.32,26,4.3],[0.35,26,4.1],[0.33,14,4],[0.35,7,4.1],[0.37,8.5,3.9],[0.37,35,4.5],[0.41,31,4.6],[0.42,24,4.5],[0.41,18,4.7],[0.39,13,4.8],[0.38,11,4.9],[0.37,8,5]],
  [[0.03,5,1],[0.04,3,1.2],[0.05,6,1.3],[0.06,1,0.8],[0.07,0,0.5],[0.08,0,0.3],[0.05,2,1.5],[0.16,24,2.1],[0.2,14,2.3],[0.24,13,2.2],[0.28,12,2.5],[0.04,4,3.3],[0.05,1,3.5],[0.19,8,2.8],[0.19,35.5,3.3],[0.3,3,3],[0.03,55,4.3],[0.04,29,4.2],[0.04,23,4.1],[0.04,11,4],[0.2,64,4.1],[0.21,66,4.2],[0.21,50,4.4],[0.39,35,4.4],[0.39,23,4.6],[0.39,18,4.7],[0.38,16,4.8],[0.37,15,4.9],[0.35,7,4.8],[0.34,5,4.6]],
  [[0.02,1,0.5],[0.03,2,1],[0.04,0,1.2],[0.05,3,1.1],[0.06,1,1.3],[0.08,3,1.8],[0.1,2,2],[0.1,0,2.1],[0.12,1,1.9],[0.2,0.5,2.6],[0.25,0.5,2.7],[0.35,0,2.8],[0.38,17,3.5],[0.43,6,3.4],[0.44,3,3.3],[0.45,0,3.4],[0.33,18,4.3],[0.32,15,4.2],[0.33,12,4.1],[0.34,11,4],[0.36,5,4.1],[0.36,2,3.8],[0.4,1,4],[0.28,1,4.9],[0.29,2,5],[0.3,1.5,4.8],[0.3,0.5,4.7]],
  [[0.03,1,1],[0.05,0,0.5],[0.06,2,1.2],[0.07,0.5,1.5],[0.08,1,2.2],[0.1,0,2.6],[0.1,2,3],[0.12,1.5,3.3],[0.11,3,3.5],[0.16,1,4.9],[0.16,2,4.8],[0.15,0.5,4.7],[0.2,0.5,4.2],[0.24,1,4.3],[0.27,0,4.1],[0.3,0.5,4.2]],
  [[0.06,5,0.8],[0.07,6,1],[0.06,3,1.2],[0.07,0,0.5],[0.08,1,1.4],[0.05,1.5,1.1],[0.12,0.5,2],[0.15,1,2.2],[0.13,2,1.8],[0.18,4,4.6],[0.18,3,4.8],[0.18,2,4.9],[0.18,1,4.7],[0.35,2,2.7],[0.56,8,2.6],[0.42,5.5,4.2],[0.43,1,4],[0.6,6,4.1],[0.6,3,4.2],[0.6,0.5,4],[0.61,1.5,3.9]],
  [[0.03,0.5,1],[0.05,1,0.8],[0.07,0,1.2],[0.09,1,1.4],[0.12,2,2.5],[0.15,1,2.7],[0.2,0.5,3],[0.3,59,4.1],[0.28,26,4],[0.27,10,3.9],[0.27,4,3.6],[0.25,1,3.8],[0.32,0.5,4.2],[0.35,1,4.1],[0.4,0,4.6],[0.43,4,4.5],[0.46,3,4.6],[0.5,3.5,4.8],[0.52,3,4.9],[0.53,2.5,5],[0.45,0.5,4.7]],
  [[0.03,5,1],[0.03,7.5,1.2],[0.04,3,0.8],[0.05,0,0.5],[0.05,1.5,1.1],[0.08,2,1.4],[0.12,8,1.9],[0.15,6,2.1],[0.18,4,2.2],[0.2,7,2.3],[0.22,3,2.4],[0.25,1,2.7],[0.28,2,3],[0.3,1,3.2],[0.33,0,3.3],[0.27,3,2.9],[0.3,9.5,4.1],[0.37,10,3.9],[0.38,9,3.8],[0.4,0,4],[0.38,38,4.2],[0.36,18.5,4.4],[0.36,18,4.5],[0.48,31,4.5],[0.48,23,4.6],[0.48,22,4.7],[0.48,13,4.9],[0.48,12,5],[0.48,9.5,4.6],[0.48,3,4.8]],
  [[0.03,5,0.8],[0.03,2,1],[0.04,0,0.5],[0.07,0,1.2],[0.09,0,1.4],[0.12,8,1.9],[0.14,9,2],[0.17,9,2.1],[0.2,8.5,2.2],[0.12,3,1.8],[0.15,0,2],[0.22,7,2.5],[0.25,8,2.7],[0.28,6,3],[0.3,4,3.2],[0.32,0,3.4],[0.25,1,2.8],[0.45,20,4.2],[0.48,21,4.1],[0.48,33,4.3],[0.45,11,4.1],[0.5,13,4.3],[0.43,5,4.2],[0.4,0,4.9],[0.42,1,4.8],[0.42,6,4.7]],
  [[0.03,1,1],[0.04,0,0.5],[0.05,0.5,0.8],[0.06,1.5,1.2],[0.08,0,1.3],[0.1,1,1.5],[0.15,1,2],[0.2,1,2.3],[0.22,0.5,2.5],[0.3,1,2.6],[0.35,2,2.8],[0.4,4,2.7],[0.28,2,4.9],[0.29,1.5,5],[0.27,1,4.6],[0.52,46,4.2],[0.52,17,4],[0.55,5,3.5],[0.6,1,3.4],[0.65,0,3.3],[0.7,2,3.8],[0.75,3,4],[0.8,3.5,4.1],[0.72,0,3.6]],
];
const bKFit: F[] = [
  [[0,4],[0.1,7],[0.2,12.5],[0.3,22],[0.4,39],[0.51,70]],
  [[0,1],[0.2,1.8],[0.4,2.8],[0.6,4],[0.8,5.8]],
  [[0,3],[0.1,4],[0.2,5.5],[0.3,7.5],[0.38,10]],
  [[0,1],[0.15,3],[0.3,8],[0.45,22],[0.59,62.5]],
  [[0,8],[0.1,10.5],[0.2,14],[0.3,18],[0.4,23]],
  [[0,1.5],[0.15,2.6],[0.3,4],[0.45,6],[0.6,8.5]],
  [[0,0.5],[0.15,0.7],[0.3,0.9]],
  [[0,1],[0.2,1.6],[0.4,2.2],[0.6,3],[0.8,3.5]],
  [[0,1],[0.15,2],[0.3,3],[0.45,4.2],[0.55,5.5]],
  [[0,0.5],[0.15,3],[0.3,7],[0.45,15],[0.58,27]],
  [[0.3,0],[0.45,3],[0.5,13],[0.53,30],[0.55,70]],
  [[0,0.5],[0.4,0.8],[0.8,1.5]],
];

// Panel C: [lower whisker, q1, median, q3, upper whisker]
const boxCats = ['MI', 'VF'];
const avConstMI = [12.4, 13.2, 26.7, 48.5, 132];
const avConstVF = [1.7, 2.8, 3.7, 4.8, 5.3];
const kConstMI = [9.6, 17.4, 36, 148.6, 255];
const kConstVF = [0.5, 2, 3.5, 6, 52.5];
const avConstTicks = [0, 50, 100];
const kConstTicks = [0, 50, 100, 150, 200, 250];

// Panel D
const dCats = ['Baseline', 'MI'];
const dMean = [1.45, 2.33];
const dSd = [1.07, 0.71];
const dTicks = [0, 0.5, 1, 1.5, 2, 2.5, 3, 3.5];

// layout (pixels)
const aCols = [61, 165, 272, 378, 484, 591];
const aRows = [48, 178, 310, 440];
const bCols = [61, 170, 280, 389, 498, 608];
const bRows = [642, 778, 905, 1041];

function jet(v: number) {
  const t = Math.max(0, Math.min(1, v / 5));
  const f = (c: number) => Math.round(255 * Math.max(0, Math.min(1, 1.5 - Math.abs(4 * t - c))));
  return `rgb(${f(3)},${f(2)},${f(1)})`;
}

function fixedAxis(min: number, max: number, ticks: number[], size: number, horizontal: boolean, extra: any = {}) {
  return {
    type: 'linear',
    min,
    max,
    afterBuildTicks: (s: any) => { s.ticks = ticks.map((v) => ({ value: v })); },
    afterFit: (s: any) => { if (horizontal) s.height = size; else s.width = size; },
    grid: { display: false, drawTicks: false },
    border: { display: true, color: AXIS, width: 1 },
    ticks: { font: { family: FONT, size: 11 }, color: TICK, padding: 4, autoSkip: false, maxRotation: 0, callback: (v: any) => String(v) },
    ...extra,
  };
}

function ChartCanvas({ left, top, width, height, build }: { left: number; top: number; width: number; height: number; build: () => any }) {
  const ref = useRef<HTMLCanvasElement>(null);
  useEffect(() => {
    if (!ref.current) return;
    const chart = new Chart(ref.current, build());
    return () => chart.destroy();
  }, []);
  return <canvas ref={ref} width={width} height={height} style={{ position: 'absolute', left, top, width, height }} />;
}

function Label({ x, y, size, bold, rot, color, children }: any) {
  return (
    <div style={{ position: 'absolute', left: x, top: y, transform: `translate(-50%,-50%)${rot ? ` rotate(${rot}deg)` : ''}`, fontSize: size, fontWeight: bold ? 700 : 400, whiteSpace: 'nowrap', lineHeight: 1, color: color || '#1a1a1a' }}>
      {children}
    </div>
  );
}

const YW = 24, PT = 8, PR = 14, XH = 18;

function ScatterPanel({ ax, top, w, h, xMax, yMax, xTicks, yTicks, pts, fit, title }: any) {
  const mid = (xTicks[0] + xTicks[xTicks.length - 1]) / 2;
  const build = () => ({
    type: 'scatter',
    data: {
      datasets: [
        {
          type: 'line',
          data: fit.map(([x, y]: number[]) => ({ x, y })),
          borderColor: '#555',
          borderWidth: 1,
          borderDash: [4, 3],
          pointRadius: 0,
          fill: false,
          cubicInterpolationMode: 'monotone',
        },
        {
          data: pts.map(([x, y]: number[]) => ({ x, y })),
          pointRadius: 3,
          pointBorderWidth: 1,
          pointBackgroundColor: 'rgba(0,0,0,0)',
          pointBorderColor: pts.map((p: number[]) => jet(p[2])),
          clip: false,
        },
      ],
    },
    options: {
      responsive: false,
      animation: false,
      events: [],
      layout: { padding: { top: PT, right: PR, left: 0, bottom: 0 } },
      plugins: { legend: { display: false }, tooltip: { enabled: false } },
      scales: {
        x: fixedAxis(0, xMax, xTicks, XH, true),
        y: fixedAxis(0, yMax, yTicks, YW, false),
      },
    },
  });
  return (
    <>
      <Label x={ax + (w * mid) / xMax} y={top - 10.5} size={12} bold>{title}</Label>
      <ChartCanvas left={ax - YW} top={top - PT} width={YW + w + PR} height={PT + h + XH} build={build} />
    </>
  );
}

function ColorBar({ left, top, h }: { left: number; top: number; h: number }) {
  const build = () => ({
    type: 'scatter',
    data: { datasets: [] },
    options: {
      responsive: false,
      animation: false,
      events: [],
      layout: { padding: { top: 8, bottom: 8, left: 0, right: 0 } },
      plugins: { legend: { display: false }, tooltip: { enabled: false } },
      scales: {
        x: { type: 'linear', display: false, min: 0, max: 1 },
        y: fixedAxis(0, 5, cbTicks, 16, false, { position: 'right', border: { display: false } }),
      },
    },
    plugins: [
      {
        id: 'jetBar',
        afterDraw(chart: any) {
          const { ctx, chartArea: a } = chart;
          const g = ctx.createLinearGradient(0, a.bottom, 0, a.top);
          for (let i = 0; i <= 20; i++) g.addColorStop(i / 20, jet((i / 20) * 5));
          ctx.save();
          ctx.fillStyle = g;
          ctx.fillRect(a.left, a.top, a.right - a.left, a.bottom - a.top);
          ctx.strokeStyle = '#333';
          ctx.lineWidth = 1;
          ctx.strokeRect(a.left + 0.5, a.top + 0.5, a.right - a.left - 1, a.bottom - a.top - 1);
          ctx.restore();
        },
      },
    ],
  });
  return <ChartCanvas left={left} top={top - 8} width={11 + 16} height={h + 16} build={build} />;
}

function BoxChart({ left, top, w, h, side, yMax, yTicks, mi, vf, br }: any) {
  const ywid = 50, xh = 30, pt = 6, pad = side === 'left' ? 6 : 4;
  const xMin = 0.24;
  const xMax = xMin + w / 50;
  const stats = [mi, vf];
  const build = () => ({
    type: 'bar',
    data: {
      datasets: [
        {
          data: stats.map((s, i) => ({ x: i + 1, y: [s[1], s[3]] })),
          backgroundColor: '#e6e6e6',
          borderColor: '#333',
          borderWidth: 1,
          borderSkipped: false,
          barThickness: 30,
        },
      ],
    },
    options: {
      responsive: false,
      animation: false,
      events: [],
      layout: { padding: { top: pt, right: side === 'left' ? pad : 0, left: side === 'left' ? 0 : pad, bottom: 0 } },
      plugins: { legend: { display: false }, tooltip: { enabled: false } },
      scales: {
        x: fixedAxis(xMin, xMax, [1, 2], xh, true, {
          offset: false,
          border: { display: true, color: '#555', width: 1 },
          ticks: { font: { family: FONT, size: 16 }, color: '#333', padding: 9, autoSkip: false, maxRotation: 0, callback: (v: any) => boxCats[v - 1] },
        }),
        y: fixedAxis(0, yMax, yTicks, ywid, false, {
          position: side,
          grid: { display: true, drawOnChartArea: false, drawTicks: true, tickLength: 4, color: '#555' },
          border: { display: true, color: '#555', width: 1 },
          ticks: { font: { family: FONT, size: 15 }, color: '#333', padding: side === 'left' ? 5 : 2, autoSkip: false, callback: (v: any) => String(v) },
        }),
      },
    },
    plugins: [
      {
        id: 'whiskers',
        afterDatasetsDraw(chart: any) {
          const { ctx, scales: { x, y } } = chart;
          ctx.save();
          ctx.strokeStyle = '#333';
          ctx.lineWidth = 1;
          stats.forEach((s: number[], i: number) => {
            const px = Math.round(x.getPixelForValue(i + 1)) + 0.5;
            const line = (x1: number, y1: number, x2: number, y2: number) => {
              ctx.beginPath();
              ctx.moveTo(x1, y1);
              ctx.lineTo(x2, y2);
              ctx.stroke();
            };
            line(px, y.getPixelForValue(s[3]), px, y.getPixelForValue(s[4]));
            line(px, y.getPixelForValue(s[1]), px, y.getPixelForValue(s[0]));
            line(px - 7, y.getPixelForValue(s[4]), px + 7, y.getPixelForValue(s[4]));
            line(px - 7, y.getPixelForValue(s[0]), px + 7, y.getPixelForValue(s[0]));
            line(px - 15, y.getPixelForValue(s[2]), px + 15, y.getPixelForValue(s[2]));
          });
          // significance bracket
          const x1 = x.getPixelForValue(1), x2 = x.getPixelForValue(2);
          const yb = y.getPixelForValue(br[0]), yt = y.getPixelForValue(br[1]);
          ctx.strokeStyle = '#f2c84b';
          ctx.beginPath(); ctx.moveTo(x1, yb); ctx.lineTo(x1, yt); ctx.stroke();
          ctx.strokeStyle = '#a9d27a';
          ctx.beginPath(); ctx.moveTo(x2, yb); ctx.lineTo(x2, yt); ctx.stroke();
          ctx.strokeStyle = '#c493dc';
          ctx.beginPath(); ctx.moveTo(x1, yb); ctx.lineTo(x2, yb); ctx.stroke();
          ctx.fillStyle = '#222';
          ctx.font = `16px ${FONT}`;
          ctx.textAlign = 'center';
          ctx.textBaseline = 'alphabetic';
          ctx.fillText('*', (x1 + x2) / 2, yb + 6);
          ctx.restore();
        },
      },
    ],
  });
  const cl = side === 'left' ? left - ywid : left - pad;
  const cw = side === 'left' ? ywid + w + pad : pad + w + ywid;
  return <ChartCanvas left={cl} top={top - pt} width={cw} height={pt + h + xh} build={build} />;
}

function BarChartD() {
  const left = 489, top = 1237, w = 228, h = 265;
  const yw = 44, pt = 8, pr = 6, xh = 30;
  const build = () => ({
    type: 'bar',
    data: {
      labels: dCats,
      datasets: [
        {
          data: dMean,
          backgroundColor: ['#ffffff', '#c0c0c0'],
          borderColor: '#8c8c8c',
          borderWidth: 1,
          borderSkipped: 'start',
          barThickness: 56,
        },
      ],
    },
    options: {
      responsive: false,
      animation: false,
      events: [],
      layout: { padding: { top: pt, right: pr, left: 0, bottom: 0 } },
      plugins: { legend: { display: false }, tooltip: { enabled: false } },
      scales: {
        x: {
          afterFit: (s: any) => { s.height = xh; },
          grid: { display: false, drawTicks: false },
          border: { display: true, color: '#a0a0a0', width: 1 },
          ticks: { font: { family: FONT, size: 17 }, color: '#222', padding: 9 },
        },
        y: fixedAxis(0, 3.5, dTicks, yw, false, {
          border: { display: true, color: '#a0a0a0', width: 1 },
          ticks: { font: { family: FONT, size: 15 }, color: '#333', padding: 7, autoSkip: false, callback: (v: any) => String(v) },
        }),
      },
    },
    plugins: [
      {
        id: 'errBars',
        afterDatasetsDraw(chart: any) {
          const { ctx, scales: { x, y } } = chart;
          ctx.save();
          ctx.strokeStyle = '#9a9a9a';
          ctx.lineWidth = 1;
          dMean.forEach((m, i) => {
            const px = Math.round(x.getPixelForValue(i)) + 0.5;
            const y0 = y.getPixelForValue(m), y1 = y.getPixelForValue(m + dSd[i]);
            ctx.beginPath();
            ctx.moveTo(px, y0);
            ctx.lineTo(px, y1);
            ctx.moveTo(px - 12, y1);
            ctx.lineTo(px + 12, y1);
            ctx.stroke();
          });
          ctx.restore();
        },
      },
    ],
  });
  return <ChartCanvas left={left - yw} top={top - pt} width={yw + w + pr} height={pt + h + xh} build={build} />;
}

const sub = { fontSize: '0.68em', verticalAlign: '-0.35em' };

export default function App() {
  const aW = 79, aH = 89, bW = 85;
  return (
    <div style={{ position: 'absolute', left: 0, top: 0, width: 728, height: 1527, overflow: 'hidden', background: '#fff', fontFamily: FONT }}>
      <Label x={10} y={11.5} size={19} bold>A</Label>
      <Label x={17} y={172} size={21} rot={-90}>Alternans Voltage (μV)</Label>
      <Label x={18} y={429} size={21} rot={-90}>K<span style={sub}>score</span></Label>
      <Label x={381} y={568} size={20}>Ischemic Index</Label>
      {leads.map((ld, i) => (
        <ScatterPanel key={'av' + i} ax={aCols[i % 6]} top={aRows[Math.floor(i / 6)]} w={aW} h={aH} xMax={0.25} yMax={1.5} xTicks={aXTicks} yTicks={aVoltTicks} pts={aVoltPts[i]} fit={aVoltFit[i]} title={ld} />
      ))}
      {leads.map((ld, i) => (
        <ScatterPanel key={'ak' + i} ax={aCols[i % 6]} top={aRows[2 + Math.floor(i / 6)]} w={aW} h={aH} xMax={0.25} yMax={5} xTicks={aXTicks} yTicks={aKTicks} pts={aKPts[i]} fit={aKFit[i]} title={ld} />
      ))}
      <ColorBar left={707} top={48} h={89} />
      <ColorBar left={707} top={310} h={89} />

      <Label x={9} y={604} size={19} bold>B</Label>
      <Label x={17} y={767} size={21} rot={-90}>Alternans Voltage (μV)</Label>
      <Label x={18} y={1021} size={21} rot={-90}>K<span style={sub}>score</span></Label>
      <Label x={380} y={1165} size={20}>Ischemic Index</Label>
      {leads.map((ld, i) => (
        <ScatterPanel key={'bv' + i} ax={bCols[i % 6]} top={bRows[Math.floor(i / 6)]} w={bW} h={94} xMax={0.84} yMax={12} xTicks={bXTicks} yTicks={bVoltTicks} pts={bVoltPts[i]} fit={bVoltFit[i]} title={ld} />
      ))}
      {leads.map((ld, i) => (
        <ScatterPanel key={'bk' + i} ax={bCols[i % 6]} top={bRows[2 + Math.floor(i / 6)]} w={bW} h={93} xMax={0.84} yMax={70} xTicks={bXTicks} yTicks={bKTicks} pts={bKPts[i]} fit={bKFit[i]} title={ld} />
      ))}
      <ColorBar left={706} top={641} h={95} />
      <ColorBar left={706} top={904} h={94} />

      <Label x={14} y={1198} size={19} bold>C</Label>
      <Label x={16} y={1368} size={21.5} rot={-90}>Alternans Voltage constant</Label>
      <Label x={376} y={1363} size={21} rot={90}>K<span style={sub}>score</span> constant</Label>
      <BoxChart left={62} top={1237} w={125} h={261} side="left" yMax={145} yTicks={avConstTicks} mi={avConstMI} vf={avConstVF} br={[139.6, 135.5]} />
      <BoxChart left={202} top={1237} w={126} h={261} side="right" yMax={280} yTicks={kConstTicks} mi={kConstMI} vf={kConstVF} br={[269, 261]} />

      <Label x={436} y={1205} size={19} bold>D</Label>
      <Label x={448} y={1370} size={15} rot={-90}>S<span style={sub}>rank</span></Label>
      <BarChartD />
    </div>
  );
}
